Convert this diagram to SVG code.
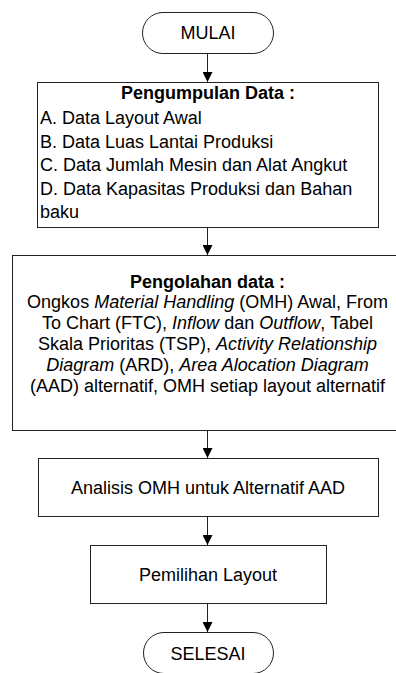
<svg xmlns="http://www.w3.org/2000/svg" width="396" height="673" viewBox="0 0 396 673">
<style>
.box{fill:#fff;stroke:#222;stroke-width:1}
.t{font-family:"Liberation Sans",Arial,sans-serif;font-size:18px;fill:#000}
.b{font-weight:bold}
.i{font-style:italic}
.c{text-anchor:middle}
.ln{stroke:#222;stroke-width:1;fill:none}
</style>
<defs>
<marker id="ah" viewBox="0 0 10 10" refX="10" refY="5" markerWidth="10" markerHeight="10" markerUnits="userSpaceOnUse" orient="auto">
<path d="M0,0 L10,5 L0,10 Z" fill="#000"/>
</marker>
</defs>
<rect width="396" height="673" fill="#fff"/>
<g id="connectors">
<line class="ln" x1="207.5" y1="53" x2="207.5" y2="82" marker-end="url(#ah)"/>
<line class="ln" x1="207.5" y1="227" x2="207.5" y2="255" marker-end="url(#ah)"/>
<line class="ln" x1="207.5" y1="430" x2="207.5" y2="458" marker-end="url(#ah)"/>
<line class="ln" x1="207.5" y1="516" x2="207.5" y2="545" marker-end="url(#ah)"/>
<line class="ln" x1="207.5" y1="603" x2="207.5" y2="632" marker-end="url(#ah)"/>
</g>
<g id="mulai">
<rect class="box" x="142.5" y="12.5" width="131" height="41" rx="20.5"/>
<text class="t c" x="208" y="39">MULAI</text>
</g>
<g id="pengumpulan">
<rect class="box" x="37.5" y="82.5" width="341" height="145"/>
<text class="t b c" x="208" y="99">Pengumpulan Data :</text>
<text class="t" x="40" y="124">A. Data Layout Awal</text>
<text class="t" x="40" y="148">B. Data Luas Lantai Produksi</text>
<text class="t" x="40" y="171">C. Data Jumlah Mesin dan Alat Angkut</text>
<text class="t" x="40" y="195">D. Data Kapasitas Produksi dan Bahan</text>
<text class="t" x="40" y="218">baku</text>
</g>
<g id="pengolahan">
<rect class="box" x="12.5" y="255.5" width="391" height="175"/>
<text class="t b c" x="207.5" y="288">Pengolahan data :</text>
<text class="t c" x="207.5" y="308">Ongkos <tspan class="i">Material Handling</tspan> (OMH) Awal, From</text>
<text class="t c" x="207.5" y="329">To Chart (FTC), <tspan class="i">Inflow</tspan> dan <tspan class="i">Outflow</tspan>, Tabel</text>
<text class="t c" x="207.5" y="350">Skala Prioritas (TSP), <tspan class="i">Activity Relationship</tspan></text>
<text class="t c" x="207.5" y="371"><tspan class="i">Diagram</tspan> (ARD), <tspan class="i">Area Alocation Diagram</tspan></text>
<text class="t c" x="207.5" y="392">(AAD) alternatif, OMH setiap layout alternatif</text>
</g>
<g id="analisis">
<rect class="box" x="38.5" y="458.5" width="340" height="58"/>
<text class="t c" x="208" y="494">Analisis OMH untuk Alternatif AAD</text>
</g>
<g id="pemilihan">
<rect class="box" x="90.5" y="545.5" width="236" height="58"/>
<text class="t c" x="208" y="581">Pemilihan Layout</text>
</g>
<g id="selesai">
<rect class="box" x="143.5" y="632.5" width="130" height="41" rx="20.5"/>
<text class="t c" x="208" y="660">SELESAI</text>
</g>
</svg>
